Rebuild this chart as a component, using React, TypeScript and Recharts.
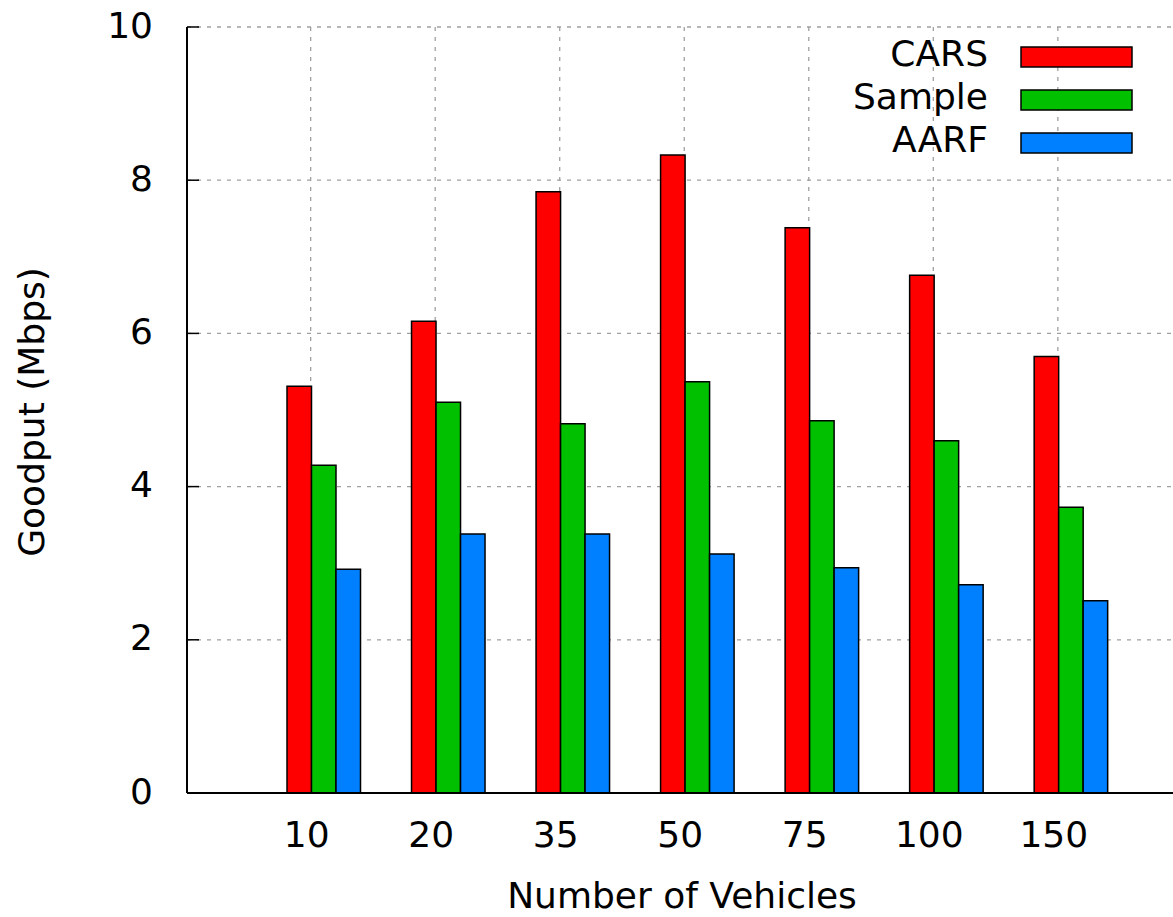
import React from 'react';
import { BarChart, Bar, XAxis, YAxis, CartesianGrid, Legend, Label } from 'recharts';

// Goodput per rate-adaptation scheme, by number of vehicles
const categories = ['10', '20', '35', '50', '75', '100', '150'];
const carsValues = [5.31, 6.16, 7.85, 8.33, 7.38, 6.76, 5.7];
const sampleValues = [4.28, 5.1, 4.82, 5.37, 4.86, 4.6, 3.73];
const aarfValues = [2.92, 3.38, 3.38, 3.12, 2.94, 2.72, 2.51];
const yTicks = [0, 2, 4, 6, 8, 10];

const series = [
  { key: 'cars', name: 'CARS', color: '#ff0000' },
  { key: 'sample', name: 'Sample', color: '#00c000' },
  { key: 'aarf', name: 'AARF', color: '#0080ff' },
];

const data = categories.map((n, i) => ({
  n,
  cars: carsValues[i],
  sample: sampleValues[i],
  aarf: aarfValues[i],
}));

const W = 1173;
const H = 917;
const FONT = '"DejaVu Sans", Verdana, sans-serif';
const FS = 36;
const PAD = { left: 74, right: 40.3 };
// tick marks sit a little left of each bar cluster's centre
const SHIFT = 12.6;
const Y_LABEL_GAP = 34;

const BottomTick = (props: any) => {
  const { x, y, payload } = props;
  return (
    <text x={x - SHIFT - 4} y={y + 54} textAnchor="middle" fontFamily={FONT} fontSize={FS} fill="#000">
      {payload.value}
    </text>
  );
};

const TopTick = (props: any) => {
  const { x, y } = props;
  return <line x1={x - SHIFT} x2={x - SHIFT} y1={y} y2={y + 10} stroke="#000" strokeWidth={1.5} />;
};

const LeftTick = (props: any) => {
  const { x, y, payload } = props;
  return (
    <g>
      <text x={x} y={y + 10.5} textAnchor="end" fontFamily={FONT} fontSize={FS} fill="#000">
        {payload.value}
      </text>
      <line x1={x + Y_LABEL_GAP} x2={x + Y_LABEL_GAP + 12} y1={y} y2={y} stroke="#000" strokeWidth={1.5} />
    </g>
  );
};

const LegendBox = () => (
  <svg width={W} height={200} style={{ display: 'block' }}>
    {series.map((s, i) => (
      <g key={s.key}>
        <text x={988} y={66 + i * 43} textAnchor="end" fontFamily={FONT} fontSize={FS} fill="#000">
          {s.name}
        </text>
        <rect x={1021} y={47 + i * 43} width={111} height={20} fill={s.color} stroke="#000" strokeWidth={1.5} />
      </g>
    ))}
  </svg>
);

const gridVerticals = ({ offset }: any) => {
  const band = (offset.width - PAD.left - PAD.right) / categories.length;
  return categories.map((_, i) => offset.left + PAD.left + band * (i + 0.5) - SHIFT);
};

export default function App() {
  return (
    <div style={{ position: 'absolute', left: 0, top: 0, width: W, height: H, background: '#fff', overflow: 'hidden' }}>
      <BarChart
        width={W}
        height={H}
        data={data}
        margin={{ top: 27, right: 0, bottom: 0, left: 0 }}
        barGap={0}
        barSize={24.5}
      >
        <CartesianGrid
          stroke="#a0a0a0"
          strokeWidth={1.3}
          strokeDasharray="4 6"
          verticalCoordinatesGenerator={gridVerticals}
        />
        <XAxis
          dataKey="n"
          height={124}
          interval={0}
          padding={PAD}
          tickSize={0}
          tickMargin={0}
          tickLine={false}
          axisLine={{ stroke: '#000', strokeWidth: 2 }}
          tick={BottomTick}
        >
          <Label
            content={() => (
              <text x={682} y={908} textAnchor="middle" fontFamily={FONT} fontSize={FS} fill="#000">
                Number of Vehicles
              </text>
            )}
          />
        </XAxis>
        <XAxis
          xAxisId="top"
          dataKey="n"
          orientation="top"
          mirror
          height={0}
          interval={0}
          padding={PAD}
          tickSize={0}
          tickMargin={0}
          tickLine={false}
          axisLine={{ stroke: '#000', strokeWidth: 2 }}
          tick={TopTick}
        />
        <YAxis
          type="number"
          domain={[0, 10]}
          ticks={yTicks}
          width={187}
          tickSize={0}
          tickMargin={Y_LABEL_GAP}
          tickLine={false}
          axisLine={{ stroke: '#000', strokeWidth: 2 }}
          tick={LeftTick}
        >
          <Label
            content={() => (
              <text
                transform="translate(44,412) rotate(-90)"
                textAnchor="middle"
                fontFamily={FONT}
                fontSize={FS}
                fill="#000"
              >
                Goodput (Mbps)
              </text>
            )}
          />
        </YAxis>
        <Legend
          layout="vertical"
          align="center"
          verticalAlign="middle"
          wrapperStyle={{ left: 0, top: 0, width: W, height: 200 }}
          content={LegendBox}
        />
        {series.map((s) => (
          <Bar
            key={s.key}
            dataKey={s.key}
            name={s.name}
            fill={s.color}
            stroke="#000"
            strokeWidth={1.5}
            isAnimationActive={false}
          />
        ))}
      </BarChart>
    </div>
  );
}
